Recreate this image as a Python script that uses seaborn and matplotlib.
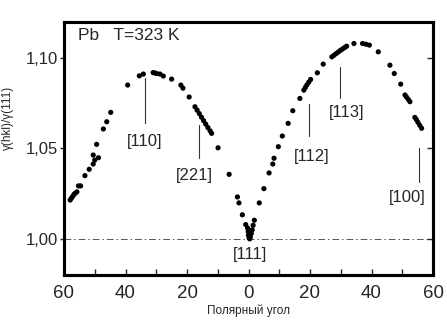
import numpy as np
import pandas as pd
import matplotlib
matplotlib.use("Agg")
import matplotlib.pyplot as plt
import seaborn as sns

# Polar angle (signed: left branch negative) and gamma(hkl)/gamma(111)
angle_left = [-58.0, -57.6, -57.2, -56.8, -56.4, -55.8, -55.3, -54.6, -53.2, -51.8,
              -50.5, -50.0, -50.5, -48.8, -49.4, -47.2, -46.1, -44.8, -39.3, -35.5,
              -34.2, -31.0, -30.4, -29.9, -28.8, -27.7, -25.0, -22.0, -21.3, -19.3,
              -17.4, -16.7, -16.0, -15.3, -14.6, -13.9, -13.2, -12.5, -12.0, -9.9,
              -6.3, -3.6, -3.1, -2.0, -0.9, -0.3, -0.1, 0.0, 0.2, 0.4, 0.6, 0.9, 1.2, 1.5]
gamma_left = [1.0215, 1.0225, 1.0234, 1.0245, 1.0252, 1.0260, 1.0293, 1.0293, 1.0350, 1.0385,
              1.0414, 1.0436, 1.0464, 1.0449, 1.0523, 1.0608, 1.0648, 1.0700, 1.0851, 1.0902,
              1.0912, 1.0920, 1.0918, 1.0915, 1.0912, 1.0901, 1.0884, 1.0851, 1.0834, 1.0785,
              1.0731, 1.0712, 1.0693, 1.0673, 1.0654, 1.0635, 1.0616, 1.0598, 1.0584, 1.0504,
              1.0357, 1.0232, 1.0199, 1.0133, 1.0079, 1.0060, 1.0040, 1.0020, 1.0005, 1.0000,
              1.0010, 1.0030, 1.0050, 1.0075]
angle_right = [1.9, 3.5, 5.0, 6.7, 7.9, 8.3, 9.7, 11.0, 12.9, 14.4, 16.7, 18.0, 18.5,
               19.0, 19.6, 20.2, 22.4, 24.3, 27.1, 27.8, 28.5, 29.2, 29.9, 30.6, 31.3,
               31.9, 34.3, 37.1, 38.2, 39.3, 42.2, 46.0, 47.4, 49.5, 50.9, 51.4, 52.0,
               52.5, 54.1, 54.6, 55.1, 55.7, 56.3]
gamma_right = [1.0103, 1.0199, 1.0278, 1.0365, 1.0414, 1.0446, 1.0510, 1.0569, 1.0639, 1.0709,
               1.0777, 1.0823, 1.0838, 1.0852, 1.0867, 1.0882, 1.0919, 1.0967, 1.1007, 1.1016,
               1.1025, 1.1034, 1.1043, 1.1051, 1.1059, 1.1066, 1.1081, 1.1081, 1.1077, 1.1072,
               1.1035, 1.0961, 1.0915, 1.0856, 1.0796, 1.0784, 1.0771, 1.0759, 1.0672, 1.0660,
               1.0645, 1.0628, 1.0612]

# Direction labels: (label, x of marker line, line bottom, line top, label y)
dir_labels = ["[110]", "[221]", "[111]", "[112]", "[113]", "[100]"]
dir_x = [-33.7, -16.0, 0.5, 19.7, 29.8, 55.4]
dir_line_lo = [1.064, 1.045, None, 1.0569, 1.078, 1.0315]
dir_line_hi = [1.089, 1.063, None, 1.0746, 1.095, 1.050]
dir_text_x = [-33.7, -17.5, 0.5, 20.5, 32.0, 51.5]
dir_text_y = [1.0536, 1.035, 0.9915, 1.0453, 1.070, 1.0227]

xticks = [-60, -40, -20, 0, 20, 40, 60]
xtick_labels = ["60", "40", "20", "0", "20", "40", "60"]
yticks = [1.00, 1.05, 1.10]
ytick_labels = ["1,00", "1,05", "1,10"]

df = pd.DataFrame({"angle": angle_left + angle_right,
                   "gamma": gamma_left + gamma_right})

sns.set_style("white")
plt.rcParams['font.family'] = ['Liberation Sans', 'DejaVu Sans']

fig = plt.figure(figsize=(4.47, 3.26), dpi=100)
ax = fig.add_axes([64/447, 1-275/326, (433-64)/447, (275-22)/326])

sns.scatterplot(data=df, x="angle", y="gamma", ax=ax, color="black", s=14,
                edgecolor="none", linewidth=0, legend=False)

ax.axhline(1.0, color="#555555", lw=0.7, ls=(0, (7, 3, 1.5, 3)), zorder=0)

for lab, x, lo, hi, tx, ty in zip(dir_labels, dir_x, dir_line_lo, dir_line_hi,
                                  dir_text_x, dir_text_y):
    if lo is not None:
        ax.plot([x, x], [lo, hi], color="#333333", lw=0.8)
    ax.text(tx, ty, lab, ha="center", va="center", fontsize=12)

ax.text(-55.5, 1.1125, "Pb   T=323 K", ha="left", va="center", fontsize=12.5)

ax.set_xlim(-60, 60)
ax.set_ylim(0.98, 1.12)
ax.set_xticks(xticks)
ax.set_xticklabels(xtick_labels, fontsize=13.5)
ax.set_xticks(np.arange(-50, 60, 20), minor=True)
ax.set_yticks(yticks)
ax.set_yticklabels(ytick_labels, fontsize=12)

ax.tick_params(axis="x", which="both", direction="in", length=4, width=1, pad=7,
               bottom=True, top=False)
ax.tick_params(axis="y", which="both", direction="out", length=3, width=1, pad=1,
               left=True, right=False)

# right-hand inward ticks
ax2 = ax.twinx()
ax2.set_ylim(ax.get_ylim())
ax2.set_yticks(yticks)
ax2.set_yticklabels([])
ax2.tick_params(axis="y", direction="in", length=4, width=1, right=True)
ax2.grid(False)

for a in (ax, ax2):
    for sp in a.spines.values():
        sp.set_visible(True)
        sp.set_linewidth(2.2)
        sp.set_color("black")

ax.set_xlabel("Полярный угол", fontsize=8.5, labelpad=2)
ax.set_ylabel("γ(hkl)/γ(111)", fontsize=8.5)
ax.yaxis.set_label_coords(-0.135, 0.62)

fig.savefig("out.png", dpi=100)
